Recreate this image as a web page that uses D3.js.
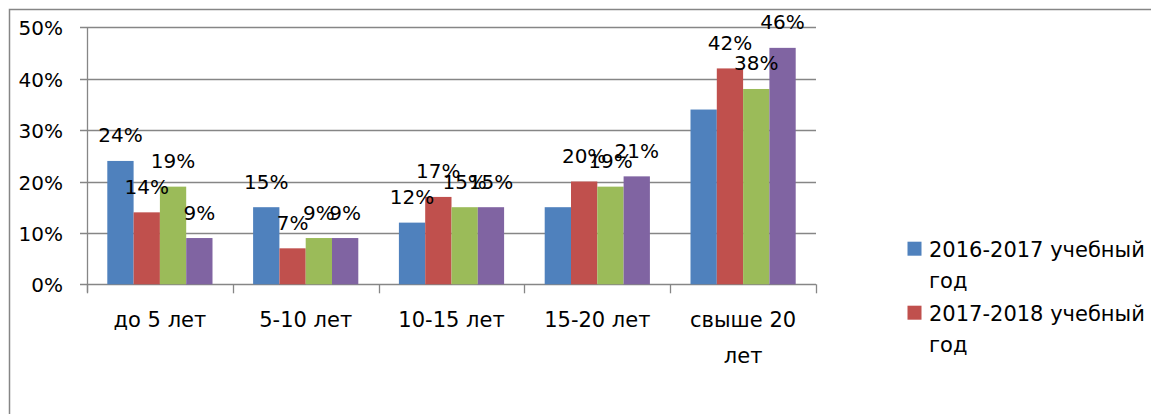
<!DOCTYPE html>
<html>
<head>
<meta charset="utf-8">
<script src="https://cdn.jsdelivr.net/npm/d3@7"></script>
<style>
  html, body { margin: 0; padding: 0; background: #fff; }
  svg { display: block; }
  text { font-family: "DejaVu Sans", sans-serif; fill: #000; }
</style>
</head>
<body>
<svg id="chart" width="1151" height="414"></svg>
<script>
const categories = ["до 5 лет", "5-10 лет", "10-15 лет", "15-20 лет", "свыше 20 лет"];
const seriesNames = ["2016-2017 учебный год", "2017-2018 учебный год", "2018-2019 учебный год", "2019-2020 учебный год"];
const series1 = [0.24, 0.15, 0.12, 0.15, 0.34];
const series2 = [0.14, 0.07, 0.17, 0.20, 0.42];
const series3 = [0.19, 0.09, 0.15, 0.19, 0.38];
const series4 = [0.09, 0.09, 0.15, 0.21, 0.46];
// which data labels are shown (the reference omits two of them)
const labelShown1 = [true, true, true, false, false];
const labelShown2 = [true, true, true, true, true];
const labelShown3 = [true, true, true, true, true];
const labelShown4 = [true, true, true, true, true];
const yTicks = [0, 0.1, 0.2, 0.3, 0.4, 0.5];
const colors = ["#4F81BD", "#C0504D", "#9BBB59", "#8064A2"];
const legendCount = 2; // only first two legend entries fit in the picture

(function () {
const allSeries = [series1, series2, series3, series4];
const allShown = [labelShown1, labelShown2, labelShown3, labelShown4];

const svg = d3.select("#chart");
const grid = "#868686";

// outer chart frame (extends past the picture)
svg.append("rect").attr("x", 9.5).attr("y", 9.5).attr("width", 1200).attr("height", 500)
  .attr("fill", "none").attr("stroke", grid).attr("stroke-width", 1.5);

const pLeft = 87, pRight = 816, pTop = 27.3, pBottom = 284.3;
const x0 = d3.scaleBand().domain(categories).range([pLeft, pRight]).padding(0);
const inner = 20.3;
const x1 = d3.scaleBand().domain(d3.range(4)).range([inner, x0.bandwidth() - inner]).padding(0);
const y = d3.scaleLinear().domain([0, 0.5]).range([pBottom, pTop]);

// gridlines + y ticks
svg.append("g").selectAll("line").data(yTicks).join("line")
  .attr("x1", pLeft - 7).attr("x2", pRight)
  .attr("y1", d => Math.round(y(d)) + 0.5).attr("y2", d => Math.round(y(d)) + 0.5)
  .attr("stroke", grid).attr("stroke-width", 1.3);

svg.append("g").selectAll("text").data(yTicks).join("text")
  .attr("x", 63).attr("y", d => y(d) + 8)
  .attr("text-anchor", "end").attr("font-size", 20)
  .text(d => d3.format(".0%")(d));

// y axis line
svg.append("line").attr("x1", pLeft + 0.5).attr("x2", pLeft + 0.5).attr("y1", pTop).attr("y2", pBottom + 8)
  .attr("stroke", grid).attr("stroke-width", 1.3);
// x category tick marks
const bounds = categories.map(c => x0(c)).concat([pRight]);
svg.append("g").selectAll("line").data(bounds).join("line")
  .attr("x1", d => Math.round(d) + 0.5).attr("x2", d => Math.round(d) + 0.5)
  .attr("y1", pBottom).attr("y2", pBottom + 9)
  .attr("stroke", grid).attr("stroke-width", 1.3);

// bars
allSeries.forEach((vals, si) => {
  svg.append("g").selectAll("rect").data(vals).join("rect")
    .attr("x", (d, i) => x0(categories[i]) + x1(si))
    .attr("width", x1.bandwidth())
    .attr("y", d => y(d))
    .attr("height", d => pBottom - y(d))
    .attr("fill", colors[si]);
});

// data labels
allSeries.forEach((vals, si) => {
  svg.append("g").selectAll("text").data(vals.map((v, i) => ({v, i})).filter(o => allShown[si][o.i])).join("text")
    .attr("x", o => x0(categories[o.i]) + x1(si) + x1.bandwidth() / 2)
    .attr("y", o => y(o.v) - 18.5)
    .attr("text-anchor", "middle").attr("font-size", 20)
    .text(o => d3.format(".0%")(o.v));
});

// category labels (wrapped like the reference)
const catLines = {"свыше 20 лет": ["свыше 20", "лет"]};
categories.forEach(c => {
  const lines = catLines[c] || [c];
  const t = svg.append("text").attr("text-anchor", "middle").attr("font-size", 21)
    .attr("x", x0(c) + x0.bandwidth() / 2).attr("y", 327);
  lines.forEach((ln, k) => {
    t.append("tspan").attr("x", x0(c) + x0.bandwidth() / 2).attr("dy", k === 0 ? 0 : 36).text(ln);
  });
});

// legend
const lg = svg.append("g");
seriesNames.slice(0, legendCount).forEach((name, i) => {
  const by = 256.7 + i * 64;
  lg.append("rect").attr("x", 907.5).attr("y", by - 15).attr("width", 14).attr("height", 14)
    .attr("fill", colors[i]);
  const parts = name.split(" ");
  const t = lg.append("text").attr("x", 929).attr("y", by).attr("font-size", 21);
  t.append("tspan").attr("x", 929).attr("dy", 0).text(parts.slice(0, 2).join(" "));
  t.append("tspan").attr("x", 929).attr("dy", 31).text(parts.slice(2).join(" "));
});
})();
</script>
</body>
</html>
